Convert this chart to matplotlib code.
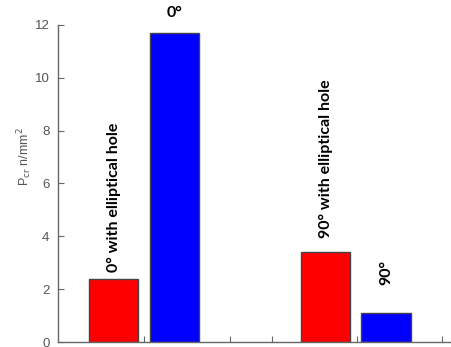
import matplotlib.pyplot as plt

# bar data
positions = [1.0, 2.0, 4.5, 5.5]
values = [2.4, 11.7, 3.4, 1.1]
colors = ["#ff0000", "#0000ff", "#ff0000", "#0000ff"]
labels = ["0° with elliptical hole", "0°", "90° with elliptical hole", "90°"]
label_rot = [90, 0, 90, 90]
label_gap = [0.25, 0.5, 0.55, 1.05]
xticks = [1.5, 2.93, 3.62, 5.02, 6.43]
yticks = [0, 2, 4, 6, 8, 10, 12]

fig = plt.figure(figsize=(4.52, 3.47), dpi=100)
ax = fig.add_axes([0.128, 0.0144, 0.868, 0.914])

ax.bar(positions, values, width=0.81, color=colors, edgecolor="#444444", linewidth=1.0)

for x, v, txt, rot, gap in zip(positions, values, labels, label_rot, label_gap):
    ax.text(x, v + gap, txt, rotation=rot, ha="center", va="bottom",
            fontsize=11.5, fontweight="bold", family="Lato",
            clip_on=False)

ax.set_xlim(0.08, 6.56)
ax.set_ylim(0, 12)
ax.set_yticks(yticks)
ax.set_xticks(xticks)
ax.set_xticklabels([])
ax.tick_params(axis="both", direction="in", length=4, color="#666666",
               labelcolor="#555555", labelsize=9.5)
ax.tick_params(axis="y", pad=6)
for lbl in ax.get_yticklabels():
    lbl.set_family("Liberation Sans")

for side in ["top", "right"]:
    ax.spines[side].set_visible(False)
for side in ["left", "bottom"]:
    ax.spines[side].set_color("#666666")
    ax.spines[side].set_linewidth(1.0)

ax.set_ylabel(r"P$_{\rm cr}$ n/mm$^2$", color="#555555", fontsize=9,
              family="Liberation Sans", va="center")
ax.yaxis.set_label_coords(-0.084, 0.584)

fig.savefig("out.png", dpi=100)
